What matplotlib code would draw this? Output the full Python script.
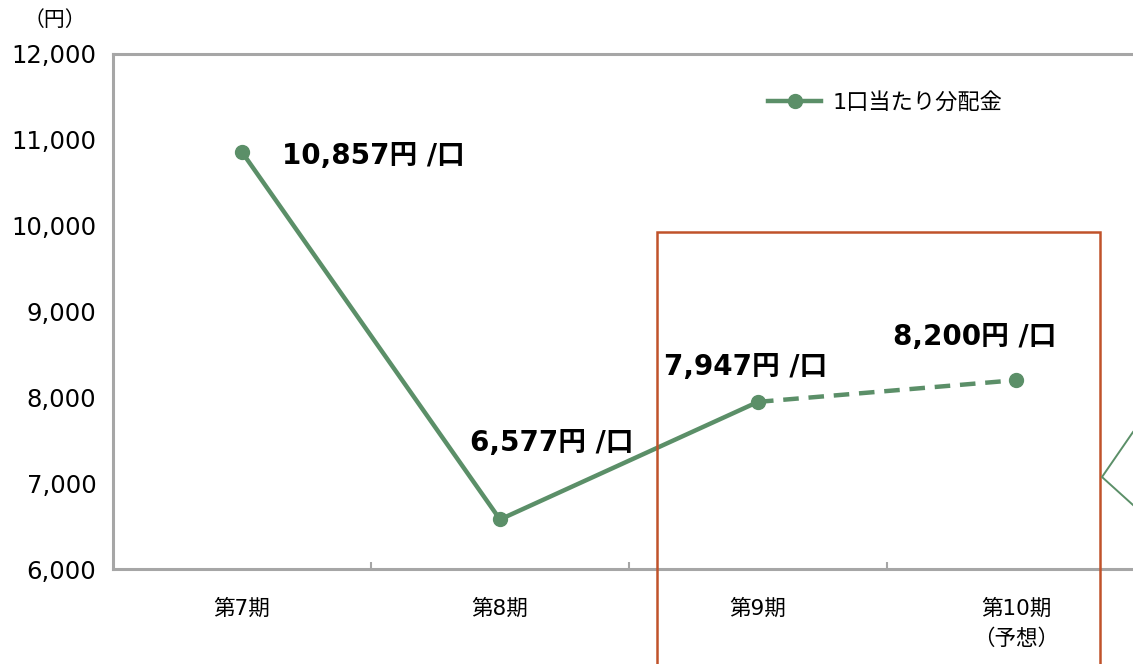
import matplotlib
matplotlib.use('Agg')
import matplotlib.pyplot as plt
from matplotlib.patches import Rectangle
from matplotlib.lines import Line2D

plt.rcParams['font.family'] = ['DejaVu Sans', 'Noto Sans CJK JP']

kikan = ['第7期', '第8期', '第9期', '第10期\n（予想）']
bunpai = [10857, 6577, 7947, 8200]
labels = ['10,857円 /口', '6,577円 /口', '7,947円 /口', '8,200円 /口']
yticks = [6000, 7000, 8000, 9000, 10000, 11000, 12000]

W, H = 1133, 664
fig = plt.figure(figsize=(W / 100, H / 100), dpi=100)
ax = fig.add_axes([113 / W, 1 - 569 / H, 1032 / W, (569 - 54) / H])

green = '#5B8F68'
gray = '#A6A6A6'
x = list(range(len(bunpai)))

# 実績（実線）と予想（破線）
ax.plot(x[:3], bunpai[:3], color=green, lw=3.2, zorder=3)
ax.plot(x[2:], bunpai[2:], color=green, lw=3.2, ls=(0, (3.5, 2.2)), zorder=3)
ax.plot(x, bunpai, 'o', color=green, ms=10, zorder=4)

offs = [(29, -3), (37, 55), (-9, 25), (-30, 31)]
has = ['left', 'center', 'center', 'center']
for xi, v, t, o, ha in zip(x, bunpai, labels, offs, has):
    ax.annotate(t, (xi, v), xytext=o, textcoords='offset points',
                ha=ha, va='center', fontsize=20, fontweight='bold')

ax.set_xlim(-0.5, 3.5)
ax.set_ylim(6000, 12000)
ax.set_yticks(yticks)
ax.set_yticklabels([f'{v:,}' for v in yticks], fontsize=17.5)
ax.set_xticks(x)
ax.set_xticklabels(kikan, fontsize=15.5, linespacing=1.6, va='top')
ax.set_xticks([0.5, 1.5, 2.5], minor=True)
ax.tick_params(axis='x', which='major', length=0, pad=21)
ax.tick_params(axis='x', which='minor', direction='in', length=5, width=1.5, color=gray)
ax.tick_params(axis='y', length=0, pad=12)
for s in ['left', 'bottom', 'top']:
    ax.spines[s].set_color(gray)
    ax.spines[s].set_linewidth(2.2)
ax.spines['right'].set_visible(False)

fig.text(55 / W, 1 - 20 / H, '（円）', fontsize=15, ha='center', va='center')

h = Line2D([], [], color=green, lw=3.2, marker='o', ms=10)
ax.legend([h], ['1口当たり分配金'], loc='center left', frameon=False,
          bbox_to_anchor=(748 / W, 1 - 102 / H), bbox_transform=fig.transFigure,
          fontsize=16, handlelength=2.4, handletextpad=0.5)

# 赤枠と吹き出し
fig.add_artist(Rectangle((657 / W, -0.05), (1100 - 657) / W, (664 - 232) / H + 0.05,
                         fill=False, edgecolor='#C0522A', lw=1.8,
                         transform=fig.transFigure))
fig.add_artist(Line2D([1133 / W, 1102 / W, 1133 / W],
                      [1 - 432 / H, 1 - 477 / H, 1 - 505 / H],
                      color=green, lw=1.4, transform=fig.transFigure))

fig.savefig('out.png', dpi=100)
